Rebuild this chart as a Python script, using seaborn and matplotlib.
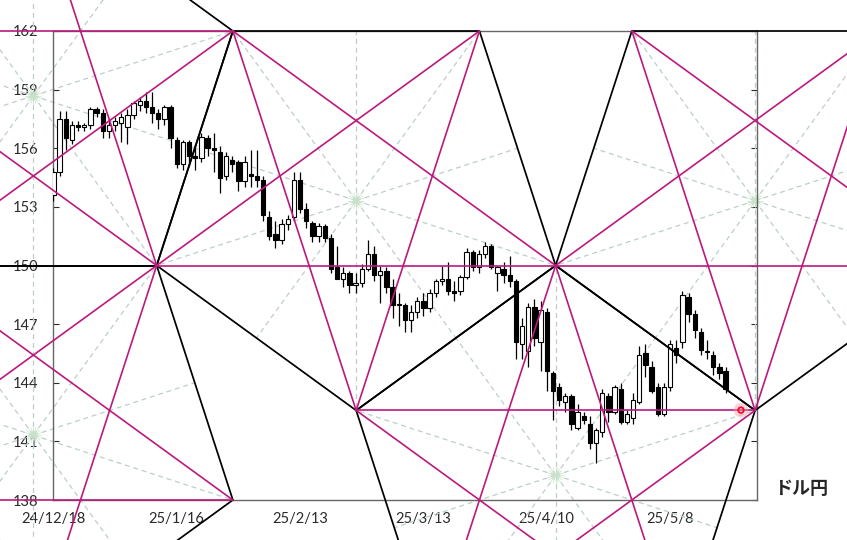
import numpy as np
import pandas as pd
import matplotlib
matplotlib.use('Agg')
import matplotlib.pyplot as plt
import seaborn as sns

# daily USD/JPY candles, bar 0 = 24/12/18
opens = [153.6, 154.8, 157.5, 156.4, 157.2, 157.1, 157.2, 158.0, 157.8, 156.9,
         157.2, 157.3, 157.1, 157.7, 158.2, 158.4, 158.1, 157.8, 157.5, 158.1,
         156.4, 155.2, 156.3, 155.6, 155.5, 156.5, 156.0, 155.8, 154.6, 155.4,
         155.3, 154.3, 154.7, 154.6, 154.4, 152.5, 151.6, 151.3, 152.1, 152.5,
         154.4, 152.9, 152.2, 151.5, 152.0, 151.4, 149.9, 149.3, 149.6, 149.0,
         149.1, 149.8, 150.6, 149.5, 149.7, 148.9, 148.0, 148.0, 147.2, 147.6,
         148.2, 147.8, 148.6, 149.2, 149.3, 148.7, 148.7, 149.4, 150.7, 149.9,
         150.6, 151.0, 149.6, 149.8, 149.5, 149.2, 146.0, 145.6, 147.9, 146.1,
         147.6, 144.5, 143.8, 143.0, 143.3, 141.7, 142.3, 141.9, 140.9, 141.5,
         143.3, 142.5, 143.7, 142.0, 142.2, 143.0, 145.5, 144.8, 143.8, 142.4,
         143.8, 145.8, 146.1, 148.4, 147.5, 146.6, 145.55, 145.4, 144.8, 144.6]
highs = [155.0, 157.9, 157.9, 157.4, 157.4, 157.3, 158.1, 158.1, 158.0, 157.4,
         157.6, 157.8, 158.0, 158.4, 158.6, 158.9, 158.9, 158.0, 158.2, 158.2,
         156.6, 156.4, 156.4, 156.2, 156.8, 156.7, 156.8, 156.1, 155.8, 155.6,
         155.4, 155.6, 155.9, 155.9, 154.6, 152.8, 152.3, 152.4, 152.6, 154.8,
         154.8, 153.2, 152.3, 152.2, 152.1, 151.6, 151.0, 149.9, 149.7, 149.6,
         150.1, 151.3, 151.0, 150.0, 149.9, 149.3, 148.6, 148.1, 148.0, 148.4,
         148.6, 148.8, 149.3, 150.0, 150.2, 149.2, 149.5, 150.9, 150.8, 150.8,
         151.2, 151.1, 150.0, 150.2, 150.5, 149.3, 147.3, 148.1, 148.3, 148.2,
         147.8, 144.6, 144.0, 143.5, 143.4, 142.9, 142.5, 142.3, 141.7, 143.7,
         143.5, 143.9, 144.0, 142.6, 143.5, 145.9, 146.0, 145.1, 144.0, 144.0,
         146.2, 146.2, 148.7, 148.6, 147.7, 146.8, 146.2, 145.6, 145.0, 144.8]
lows = [153.3, 154.6, 155.9, 156.2, 156.9, 156.9, 157.0, 157.6, 156.5, 156.5,
        156.9, 156.3, 156.2, 157.5, 157.9, 157.8, 157.3, 157.0, 157.2, 156.0,
        155.0, 154.9, 155.1, 154.9, 155.3, 155.6, 154.8, 153.7, 154.4, 154.8,
        153.8, 154.0, 154.0, 154.0, 152.3, 151.3, 150.9, 151.1, 151.8, 152.3,
        152.7, 151.9, 151.2, 151.2, 151.2, 149.6, 149.3, 148.9, 148.6, 148.6,
        148.9, 149.7, 149.2, 148.1, 148.6, 147.3, 146.9, 146.6, 146.6, 147.3,
        147.4, 147.6, 148.4, 149.0, 148.5, 148.2, 148.5, 149.3, 149.7, 149.6,
        150.4, 149.8, 148.7, 149.1, 148.9, 145.2, 145.2, 144.8, 145.9, 144.6,
        143.6, 142.1, 142.8, 142.5, 141.6, 141.6, 141.9, 140.6, 139.9, 141.2,
        142.0, 142.4, 141.9, 141.9, 141.9, 142.9, 144.3, 143.5, 142.3, 142.3,
        143.6, 145.0, 145.8, 147.1, 146.3, 145.4, 145.2, 144.4, 144.2, 143.5]
closes = [154.8, 157.5, 156.5, 157.2, 157.1, 157.2, 158.0, 157.8, 156.9, 157.2,
          157.4, 157.6, 157.7, 158.3, 158.4, 158.1, 157.8, 157.5, 158.1, 156.5,
          155.2, 156.3, 155.6, 155.5, 156.6, 156.0, 155.9, 154.5, 155.6, 155.2,
          154.3, 155.3, 154.6, 154.4, 152.6, 151.5, 151.3, 152.1, 152.4, 154.4,
          152.9, 152.3, 151.5, 152.0, 151.4, 149.8, 149.3, 149.6, 149.0, 149.1,
          149.8, 150.6, 149.5, 149.7, 148.9, 148.0, 148.0, 147.2, 147.6, 148.2,
          147.8, 148.6, 149.2, 149.3, 148.7, 148.6, 149.4, 150.7, 149.9, 150.6,
          151.0, 149.9, 149.9, 149.5, 149.2, 146.1, 146.9, 147.9, 146.3, 147.7,
          144.6, 143.6, 143.1, 143.3, 141.9, 142.5, 142.1, 140.9, 141.6, 143.5,
          142.5, 143.8, 142.0, 142.4, 143.1, 145.4, 144.9, 143.6, 142.4, 143.8,
          146.0, 145.4, 148.5, 147.5, 146.7, 145.7, 145.65, 144.8, 144.5, 143.7]

tick_bars = [0, 20, 40, 60, 80, 100]
tick_labels = ['24/12/18', '25/1/16', '25/2/13', '25/3/13', '25/4/10', '25/5/8']
price_ticks = [138, 141, 144, 147, 150, 153, 156, 159, 162]

# pentagon drawing anchors
pivot_bar = 16.75
pivot_price = 150.0
top_price = 162.0
marker_bar = 111.5
marker_price = 142.6

df = pd.DataFrame({'open': opens, 'high': highs, 'low': lows, 'close': closes})
df['bar'] = np.arange(len(df))

sns.set_style('white')
plt.rcParams['font.family'] = ['Lato', 'Noto Sans CJK JP', 'DejaVu Sans']

fig = plt.figure(figsize=(8.47, 5.40), dpi=100)
ax = fig.add_axes([53.4 / 847, 40 / 540, 703.6 / 847, 469 / 540])
ax.set_xlim(0, 114.1)
ax.set_ylim(138, 162)

# candles
up = df.close >= df.open
ax.vlines(df.bar, df.low, df.high, color='black', lw=0.9, zorder=3)
ax.bar(df.bar, (df.close - df.open).abs().clip(lower=0.04), bottom=df[['open', 'close']].min(axis=1),
       width=0.7, color=np.where(up, 'white', 'black'), edgecolor='black', linewidth=0.8, zorder=4)

# pentagon pattern (computed in screen-proportional units)
px_x = 703.6 / 114.1
px_y = 469 / 24.0
side = (top_price - pivot_price) * px_y / np.sin(np.radians(72))


def pentagon(start, direction, turn):
    pts = [np.array(start, dtype=float)]
    d = direction
    for _ in range(4):
        pts.append(pts[-1] + side * np.array([np.cos(np.radians(d)), np.sin(np.radians(d))]))
        d += turn
    return np.array(pts)


def to_data(p):
    return pivot_bar + p[0] / px_x, pivot_price + p[1] / px_y


A = np.array([0.0, 0.0])
P1 = pentagon(A, 72, -72)
G, D = P1[3], P1[4]
pentagons = [P1, pentagon(G, 72, -72), pentagon(A, 72, 72), pentagon(A, -72, -72), pentagon(D, -72, 72)]

pink = '#bb1a7c'
dash_col = '#bccfca'


def seg(p, q, **kw):
    (x0, y0), (x1, y1) = to_data(p), to_data(q)
    ax.plot([x0, x1], [y0, y1], clip_on=False, **kw)


for pg in pentagons:
    c = pg.mean(axis=0)
    for i in range(5):
        seg(c, pg[i], color=dash_col, lw=0.9, ls=(0, (4, 3)), zorder=2)
        seg(c, (pg[i] + pg[(i + 1) % 5]) / 2, color=dash_col, lw=0.9, ls=(0, (4, 3)), zorder=2)
    for a in np.arange(0, 360, 18):
        r = 8 * np.array([np.cos(np.radians(a)), np.sin(np.radians(a))])
        seg(c, c + r, color='#cae3ca', lw=0.5, zorder=2)
    for i in range(5):
        seg(pg[i], pg[(i + 1) % 5], color='black', lw=1.25, zorder=6, solid_capstyle='round')
for pg in pentagons:
    for i in range(5):
        seg(pg[i], pg[(i + 2) % 5], color=pink, lw=1.2, zorder=7, solid_capstyle='round')

# current price marker
sns.scatterplot(x=[marker_bar], y=[marker_price], s=110, color='#ff9aa8', alpha=0.45,
                edgecolor='none', ax=ax, zorder=8, clip_on=False)
sns.scatterplot(x=[marker_bar], y=[marker_price], s=16, facecolor='none', edgecolor='#e8102a',
                linewidth=1.3, ax=ax, zorder=9, clip_on=False)

ax.set_xticks(tick_bars)
ax.set_xticklabels(tick_labels)
ax.set_yticks(price_ticks)
ax.tick_params(axis='x', direction='in', length=4, pad=9, labelsize=10.5, colors='#2a2a2a')
ax.tick_params(axis='y', direction='in', length=4, pad=11, labelsize=10.5, colors='#2a2a2a',
               left=True, right=True)
for sp in ax.spines.values():
    sp.set_color('#666666')
    sp.set_linewidth(1.0)
ax.set_xlabel('')
ax.set_ylabel('')

fig.text(801 / 847, 1 - 488 / 540, 'ドル円', ha='center', va='center', fontsize=13,
         fontweight='bold', family=['Noto Sans CJK JP', 'DejaVu Sans'])

fig.savefig('out.png', dpi=100)
